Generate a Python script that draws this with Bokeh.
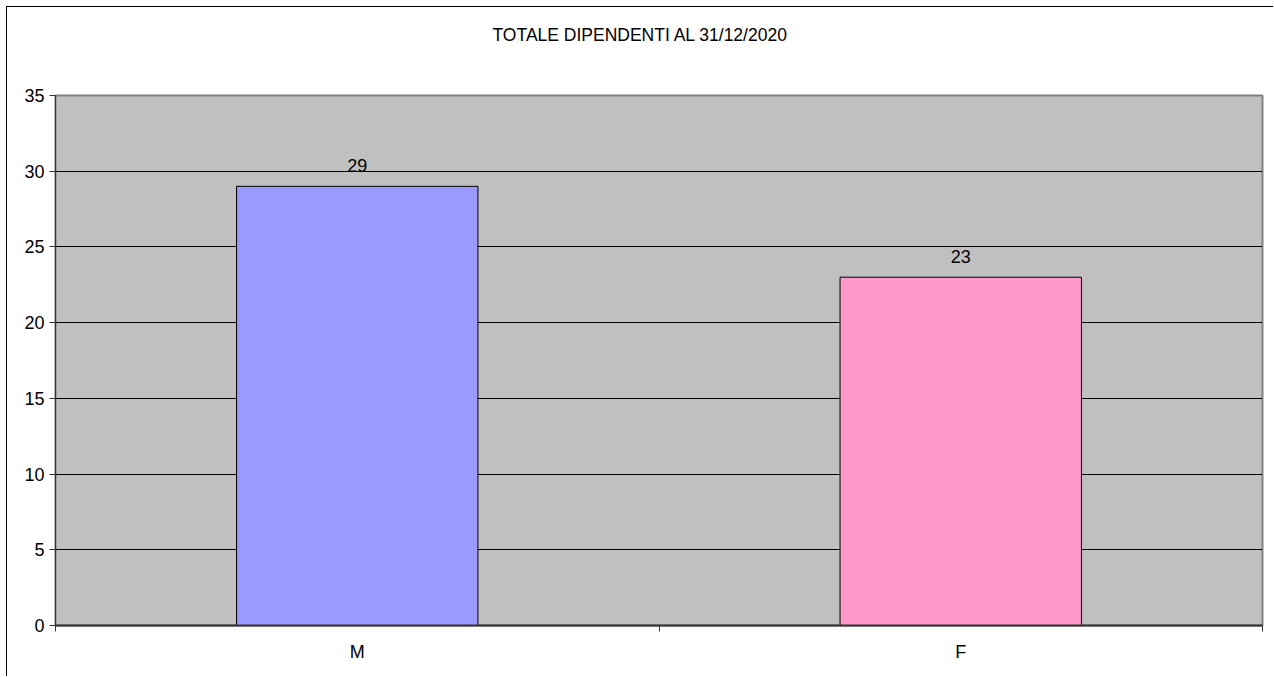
from bokeh.plotting import figure
from bokeh.models import Range1d, FixedTicker, ColumnDataSource, Title
from bokeh.core.properties import value
from bokeh.embed import file_html
from bokeh.resources import INLINE

# Dipendenti per sesso
categories = ["M", "F"]
counts = [29, 23]
colors = ["#9999FF", "#FF99CC"]
title_text = "TOTALE DIPENDENTI AL 31/12/2020"
y_ticks = [0, 5, 10, 15, 20, 25, 30, 35]

FONT = "Liberation Sans"

xs = [i + 0.5 for i in range(len(categories))]
src = ColumnDataSource(dict(x=xs, top=counts, color=colors,
                            label=[str(c) for c in counts]))

p = figure(width=1267, height=670, output_backend="svg", toolbar_location=None,
           x_range=Range1d(0, len(categories)), y_range=Range1d(0, 35),
           min_border_left=48, min_border_right=12, min_border_top=88,
           min_border_bottom=52)
p.margin = (6, 0, 0, 6)
p.styles = {"border-top": "1px solid #000000", "border-left": "1px solid #000000"}

p.background_fill_color = "#C0C0C0"
p.border_fill_color = "#FFFFFF"
p.outline_line_color = "#808080"
p.outline_line_width = 2

# chart title
p.title.text = title_text
p.title.align = "left"
p.title.offset = 437
p.title.vertical_align = "top"
p.title.text_font = FONT
p.title.text_font_size = "17.5px"
p.title.text_font_style = "normal"
p.title.text_color = "#000000"
p.title.standoff = 24

# blank band between the title and the plot area
p.add_layout(Title(text=" ", text_font=FONT, text_font_size="17.5px",
                   standoff=15), "above")

# bars
p.vbar(x="x", top="top", width=0.4, bottom=0, source=src,
       fill_color="color", line_color="#000000", line_width=1)

# value labels above the bars
p.text(x="x", y="top", text="label", source=src, text_align="center",
       text_baseline="bottom", y_offset=-14, text_font=value(FONT),
       text_font_size="18px", text_color="#000000")

# grid
p.xgrid.grid_line_color = None
p.ygrid.grid_line_color = "#000000"
p.ygrid.grid_line_width = 1

# y axis
p.yaxis.ticker = FixedTicker(ticks=y_ticks, minor_ticks=[])
p.yaxis.major_tick_in = 0
p.yaxis.major_tick_out = 6
p.yaxis.minor_tick_line_color = None
p.yaxis.major_label_text_font = FONT
p.yaxis.major_label_text_font_size = "18px"
p.yaxis.major_label_text_color = "#000000"
p.yaxis.major_label_standoff = 5
p.yaxis.axis_line_color = "#333333"
p.yaxis.major_tick_line_color = "#333333"

# x axis: labels at category centres, tick marks at category boundaries
p.xaxis.ticker = FixedTicker(ticks=xs,
                             minor_ticks=list(range(len(categories) + 1)))
p.xaxis.major_label_overrides = {x: c for x, c in zip(xs, categories)}
p.xaxis.major_tick_line_color = None
p.xaxis.minor_tick_line_color = "#333333"
p.xaxis.minor_tick_in = 0
p.xaxis.minor_tick_out = 6
p.xaxis.major_tick_out = 6
p.xaxis.major_label_text_font = FONT
p.xaxis.major_label_text_font_size = "18px"
p.xaxis.major_label_text_color = "#000000"
p.xaxis.major_label_standoff = 10
p.xaxis.axis_line_color = "#333333"
p.xaxis.axis_line_width = 2

open("out.html", "w").write(file_html(p, INLINE))
